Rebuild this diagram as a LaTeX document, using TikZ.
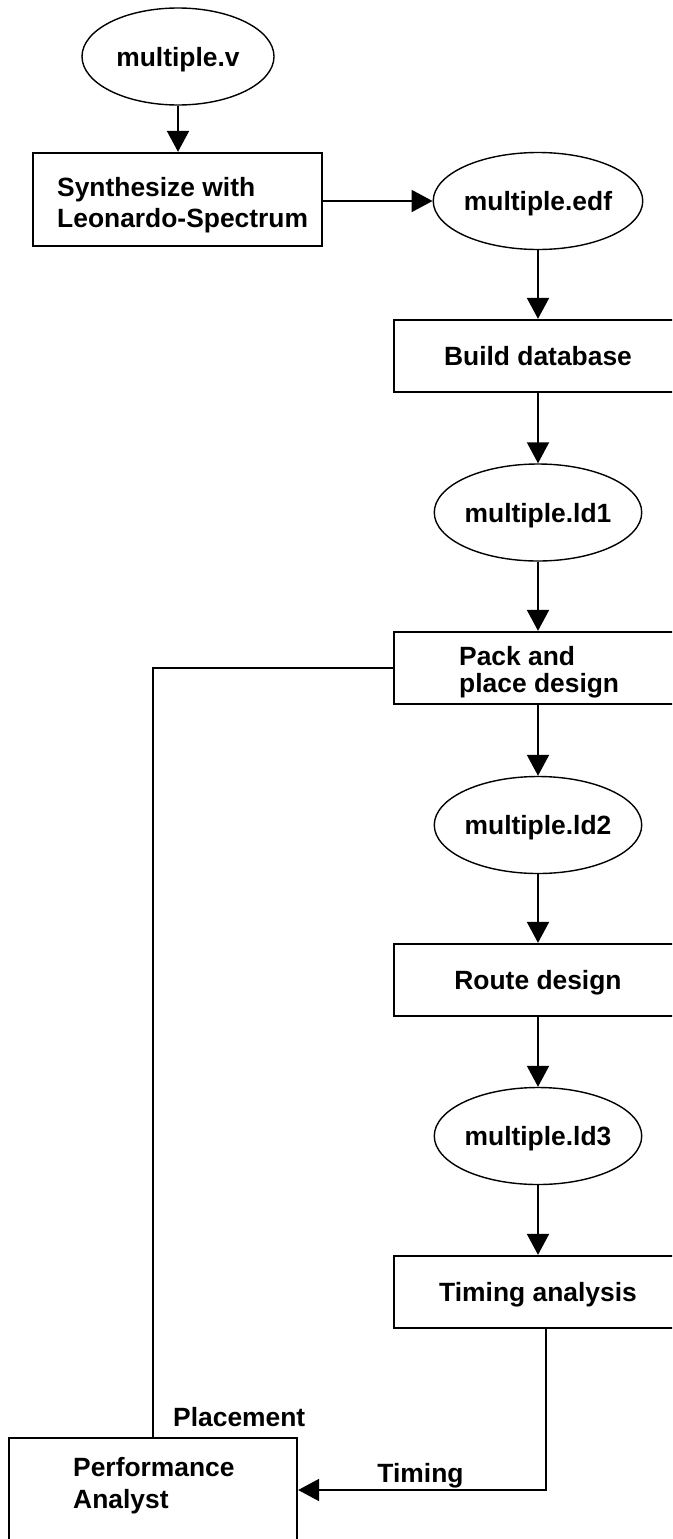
\documentclass[tikz,border=0pt]{standalone}
\usepackage{fontspec}
\setmainfont{Liberation Sans}
\usetikzlibrary{arrows.meta,shapes.geometric}
\begin{document}
\begin{tikzpicture}[x=1pt,y=1pt,
  every node/.style={font=\fontsize{26.4}{31}\selectfont\bfseries, text depth=0pt},
  blob/.style={ellipse, draw, line width=1.4pt, minimum width=192pt, minimum height=97pt, inner sep=0pt},
  stepbox/.style={rectangle, draw, line width=2.3pt, minimum width=288pt, minimum height=72pt, inner sep=0pt},
  conn/.style={line width=2pt, -{Triangle[length=21pt,width=22pt]}},
  plainline/.style={line width=1.7pt},
  lbl/.style={inner sep=0pt, align=left}]
\useasboundingbox (0,0) rectangle (672,-1539);
\fill[white] (0,0) rectangle (672,-1539);
\clip (0,0) rectangle (672,-1539);

% nodes
\node[blob] (v) at (178,-56.5) {multiple.v};
\node[stepbox, minimum width=289pt, minimum height=93pt] (syn) at (177.5,-199.5) {};
\node[lbl, anchor=west] (syntxt) at (57,-202.9) {Synthesize with\\Leonardo-Spectrum};
\node[blob] (edf) at (538,-201) {multiple.edf};
\node[stepbox] (bd) at (538,-356) {Build database};
\node[blob] (ld1) at (538,-512.5) {multiple.ld1};
\node[stepbox] (pack) at (538,-668) {};
\node[lbl, anchor=west, font=\fontsize{26.4}{27}\selectfont\bfseries] (packtxt) at (459,-669.9) {Pack and\\place design};
\node[blob] (ld2) at (538,-825) {multiple.ld2};
\node[stepbox] (route) at (538,-980) {Route design};
\node[blob] (ld3) at (538,-1136) {multiple.ld3};
\node[stepbox] (timing) at (538,-1292) {Timing analysis};
\node[stepbox, minimum width=288pt, minimum height=104pt] (perf) at (153,-1490) {};
\node[lbl, anchor=west, font=\fontsize{26.4}{32}\selectfont\bfseries] (perftxt) at (73,-1483.4) {Performance\\Analyst};
\node[lbl, anchor=base west] (placelbl) at (173,-1426) {Placement};
\node[lbl, anchor=base] (timelbl) at (420.5,-1482) {Timing};

% connectors
\draw[conn] (v.south) -- (v.south |- syn.north);
\draw[conn] (syn.east |- edf.west) -- (edf.west);
\draw[conn] (edf.south) -- (bd.north);
\draw[conn] (bd.south) -- (ld1.north);
\draw[conn] (ld1.south) -- (pack.north);
\draw[conn] (pack.south) -- (ld2.north);
\draw[conn] (ld2.south) -- (route.north);
\draw[conn] (route.south) -- (ld3.north);
\draw[conn] (ld3.south) -- (timing.north);
\draw[conn] ([xshift=8pt]timing.south) |- (perf.east);
\draw[plainline] (pack.west) -| (perf.north);
\end{tikzpicture}
\end{document}
